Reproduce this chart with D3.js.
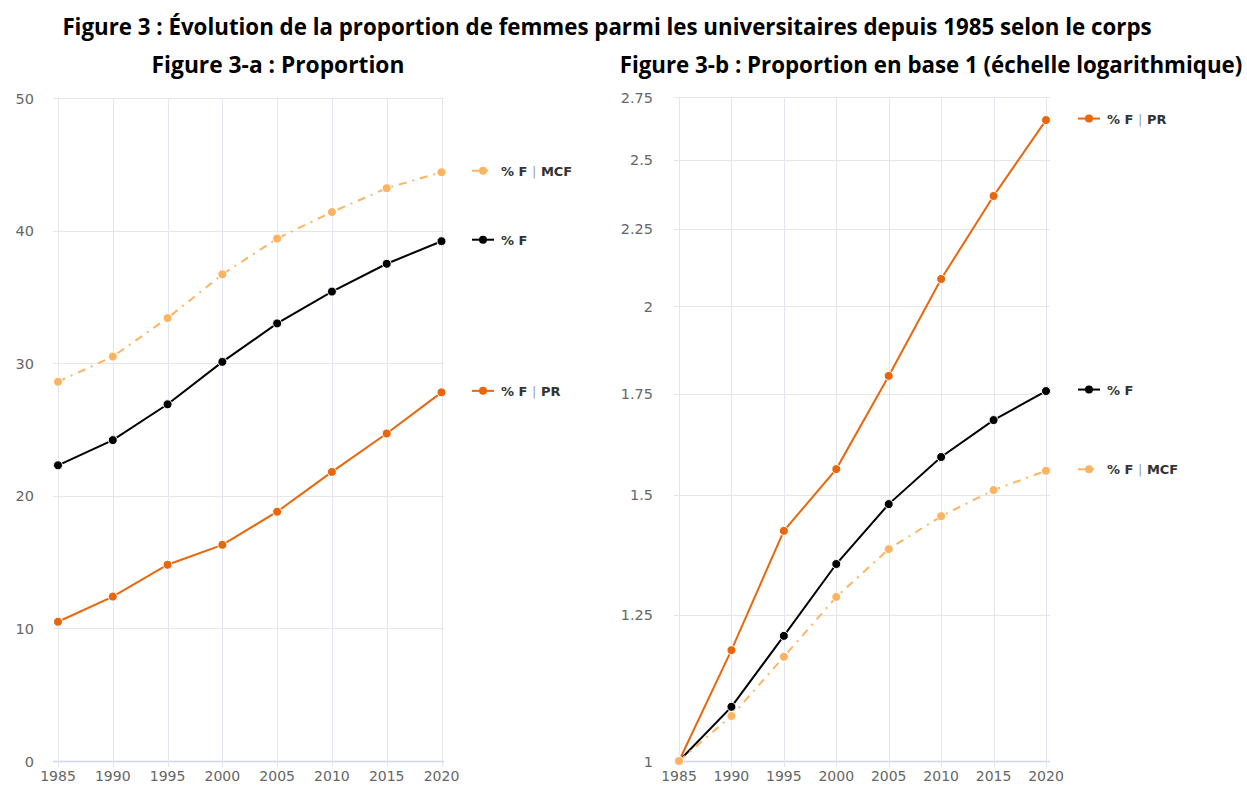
<!DOCTYPE html>
<html>
<head>
<meta charset="utf-8">
<script src="https://cdn.jsdelivr.net/npm/d3@7"></script>
<style>
  body { margin: 0; background: #fff; }
  svg { display: block; }
</style>
</head>
<body>
<svg id="chart" width="1247" height="787"></svg>
<script>
// Données
const years = [1985, 1990, 1995, 2000, 2005, 2010, 2015, 2020];

// Figure 3-a : proportion (%)
const propMCF = [28.6, 30.5, 33.4, 36.7, 39.4, 41.4, 43.2, 44.4];
const propF   = [22.3, 24.2, 26.9, 30.1, 33.0, 35.4, 37.5, 39.2];
const propPR  = [10.5, 12.4, 14.8, 16.3, 18.8, 21.8, 24.7, 27.8];

// Figure 3-b : base 1 en 1985
const basePR  = [1, 1.184, 1.42, 1.56, 1.798, 2.084, 2.365, 2.655];
const baseF   = [1, 1.086, 1.21, 1.35, 1.479, 1.589, 1.681, 1.757];
const baseMCF = [1, 1.071, 1.172, 1.284, 1.381, 1.452, 1.511, 1.556];

const ticksA = [0, 10, 20, 30, 40, 50];
const ticksB = [1, 1.25, 1.5, 1.75, 2, 2.25, 2.5, 2.75];
const ticksBLabels = ['1', '1.25', '1.5', '1.75', '2', '2.25', '2.5', '2.75'];

const COL_PR = '#e8670c';
const COL_MCF = '#fdb462';
const COL_F = '#000000';

const svg = d3.select('#chart');

// texte ajusté à une largeur cible
function fitText(sel, width) {
  const node = sel.node();
  const size = parseFloat(sel.attr('font-size'));
  const w = node.getComputedTextLength();
  sel.attr('font-size', (size * width / w).toFixed(2));
}

const title = svg.append('text')
  .attr('x', 607).attr('y', 35)
  .attr('text-anchor', 'middle')
  .attr('font-family', 'Open Sans, sans-serif')
  .attr('font-weight', 700)
  .attr('font-size', 18)
  .attr('fill', '#000')
  .text('Figure 3 : Évolution de la proportion de femmes parmi les universitaires depuis 1985 selon le corps');
fitText(title, 1090);

const subA = svg.append('text')
  .attr('x', 278).attr('y', 73)
  .attr('text-anchor', 'middle')
  .attr('font-family', 'Open Sans, sans-serif')
  .attr('font-weight', 700)
  .attr('font-size', 18)
  .text('Figure 3-a : Proportion');
fitText(subA, 253);

const subB = svg.append('text')
  .attr('x', 931).attr('y', 73)
  .attr('text-anchor', 'middle')
  .attr('font-family', 'Open Sans, sans-serif')
  .attr('font-weight', 700)
  .attr('font-size', 18)
  .text('Figure 3-b : Proportion en base 1 (échelle logarithmique)');
fitText(subB, 623);

/**
 * Dessine un panneau (grille, axes, séries, légende)
 */
function drawPanel(opts) {
  const { x, y, ticks, tickLabels, series, gridX0, gridX1, labelX, legendX } = opts;
  const g = svg.append('g');

  // grille horizontale
  g.selectAll('line.hgrid')
    .data(ticks)
    .enter().append('line')
    .attr('x1', gridX0).attr('x2', gridX1)
    .attr('y1', d => Math.round(y(d)) + 0.5)
    .attr('y2', d => Math.round(y(d)) + 0.5)
    .attr('stroke', (d, i) => i === 0 ? '#ccd6eb' : '#e6e6e6')
    .attr('stroke-width', (d, i) => i === 0 ? 1.5 : 1);

  // grille verticale
  g.selectAll('line.vgrid')
    .data(years)
    .enter().append('line')
    .attr('x1', d => Math.round(x(d)) + 0.5)
    .attr('x2', d => Math.round(x(d)) + 0.5)
    .attr('y1', y(ticks[ticks.length - 1]))
    .attr('y2', y(ticks[0]) + 6)
    .attr('stroke', '#e3e6ef')
    .attr('stroke-width', 1);

  // libellés Y
  g.selectAll('text.ylab')
    .data(ticks)
    .enter().append('text')
    .attr('x', labelX)
    .attr('y', d => y(d) + 5.5)
    .attr('text-anchor', 'end')
    .attr('font-family', 'DejaVu Sans, sans-serif')
    .attr('font-size', 14.5)
    .attr('fill', '#666')
    .text((d, i) => tickLabels[i]);

  // libellés X
  g.selectAll('text.xlab')
    .data(years)
    .enter().append('text')
    .attr('x', d => x(d))
    .attr('y', y(ticks[0]) + 20)
    .attr('text-anchor', 'middle')
    .attr('font-family', 'DejaVu Sans, sans-serif')
    .attr('font-size', 14)
    .attr('fill', '#666')
    .text(d => d);

  const line = d3.line()
    .x((d, i) => x(years[i]))
    .y(d => y(d));

  series.forEach(s => {
    g.append('path')
      .datum(s.values)
      .attr('d', line)
      .attr('fill', 'none')
      .attr('stroke', s.color)
      .attr('stroke-width', 2)
      .attr('stroke-dasharray', s.dash || null);

    g.selectAll(null)
      .data(s.values)
      .enter().append('circle')
      .attr('cx', (d, i) => x(years[i]))
      .attr('cy', d => y(d))
      .attr('r', 4.5)
      .attr('fill', s.color)
      .attr('stroke', '#fff')
      .attr('stroke-width', 1);

    // légende à droite, alignée sur la dernière valeur
    const ly = y(s.values[s.values.length - 1]) - 1.5;
    const lg = g.append('g').attr('transform', `translate(${legendX},${ly})`);
    lg.append('line')
      .attr('x1', 0).attr('x2', 22)
      .attr('y1', 0).attr('y2', 0)
      .attr('stroke', s.color)
      .attr('stroke-width', 2)
      .attr('stroke-dasharray', s.dash || null);
    lg.append('circle')
      .attr('cx', 11).attr('cy', 0).attr('r', 4)
      .attr('fill', s.color);
    const t = lg.append('text')
      .attr('x', 29).attr('y', 5)
      .attr('font-family', 'DejaVu Sans, sans-serif')
      .attr('font-weight', 700)
      .attr('font-size', 13)
      .attr('fill', '#333');
    const parts = s.name.split('|');
    t.append('tspan').text(parts[0]);
    if (parts.length > 1) {
      t.append('tspan').attr('fill', '#9aa0b4').attr('font-weight', 400).text('|');
      t.append('tspan').text(parts[1]);
    }
  });
}

// Figure 3-a
const xA = d3.scaleLinear().domain([1985, 2020]).range([58, 441.5]);
const yA = d3.scaleLinear().domain([0, 50]).range([761, 98]);
drawPanel({
  x: xA, y: yA,
  ticks: ticksA, tickLabels: ticksA.map(String),
  gridX0: 53, gridX1: 444, labelX: 34, legendX: 472,
  series: [
    { name: '% F | MCF', values: propMCF, color: COL_MCF, dash: '8,6,2,6' },
    { name: '% F', values: propF, color: COL_F },
    { name: '% F | PR', values: propPR, color: COL_PR }
  ]
});

// Figure 3-b
const xB = d3.scaleLinear().domain([1985, 2020]).range([679, 1046]);
const yB = d3.scaleLog().domain([1, 2.75]).range([761, 97]);
drawPanel({
  x: xB, y: yB,
  ticks: ticksB, tickLabels: ticksBLabels,
  gridX0: 674, gridX1: 1050, labelX: 653, legendX: 1078,
  series: [
    { name: '% F | PR', values: basePR, color: COL_PR },
    { name: '% F', values: baseF, color: COL_F },
    { name: '% F | MCF', values: baseMCF, color: COL_MCF, dash: '8,6,2,6' }
  ]
});
</script>
</body>
</html>
